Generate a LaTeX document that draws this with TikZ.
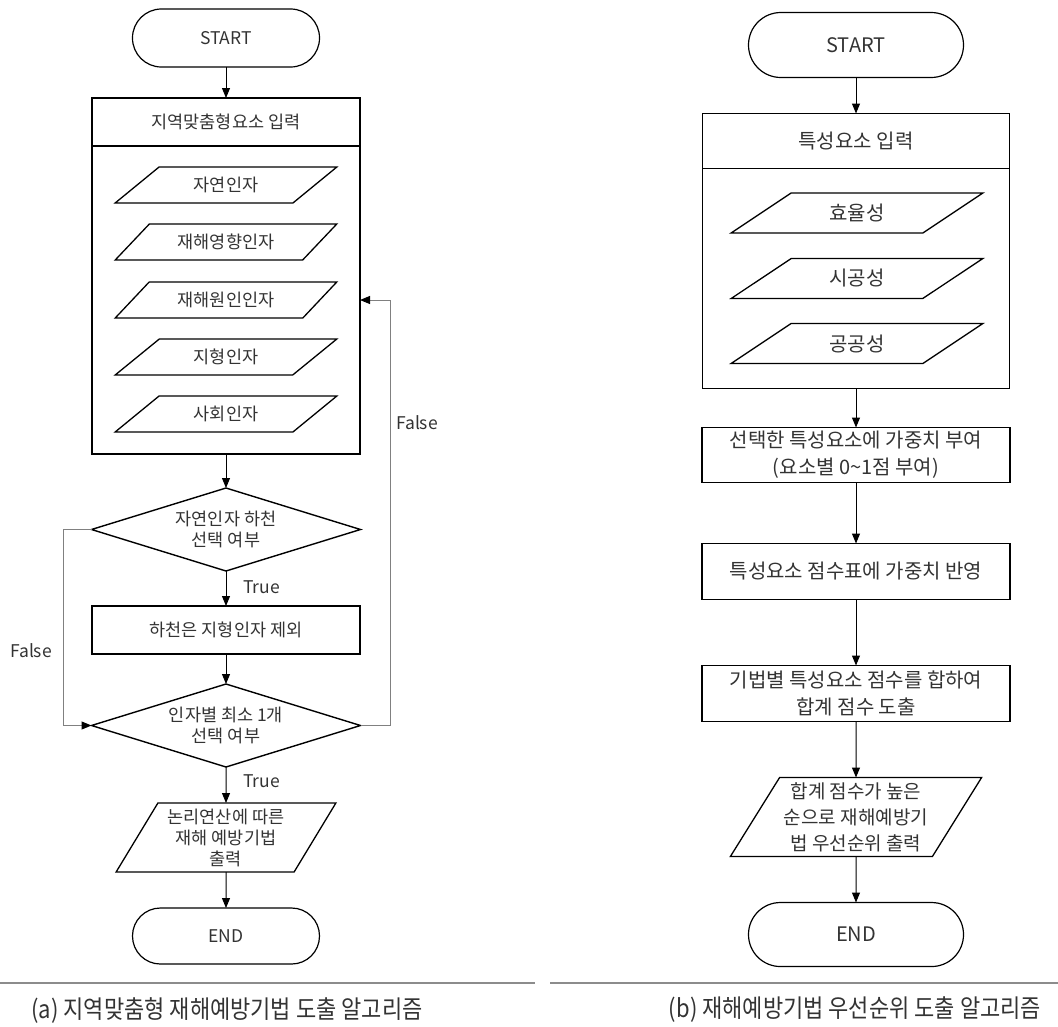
\documentclass[tikz,border=0pt]{standalone}
\usepackage{fontspec}
\setmainfont{Noto Sans CJK KR}
\usepackage{graphicx}
\usepackage{tikz}
\usetikzlibrary{arrows.meta}
\usetikzlibrary{positioning}
\usetikzlibrary{shapes}
\definecolor{ink}{RGB}{51,51,51}
\definecolor{loopgray}{RGB}{128,128,128}
\definecolor{rulegray}{RGB}{140,140,140}

\begin{document}
\begin{tikzpicture}[
      x=1pt, y=-1pt,
      every node/.style={text=ink, outer sep=0pt},
      lfont/.style={font=\fontsize{17.5}{21}\selectfont},
      rfont/.style={font=\fontsize{20}{27}\selectfont},
      terminal/.style={rectangle, draw, line width=1.2pt},
      process/.style={rectangle, draw, line width=1.5pt, align=center},
      iodata/.style={trapezium, trapezium stretches=true, draw,
                     line width=1.3pt, align=center, inner sep=1pt},
      decision/.style={diamond, aspect=3.24, draw, line width=1.4pt, align=center,
                       inner sep=0pt, minimum width=269pt, minimum height=83pt},
      flow/.style={-{Triangle[length=10pt,width=8pt]}, line width=1pt},
      loop/.style={loopgray, line width=1pt,
                   -{Triangle[length=10pt,width=8pt,color=black]}},
      caption/.style={font=\fontsize{25}{30}\selectfont}
    ]
      \useasboundingbox (0,0) rectangle (1058,1026);

      % (a) left chart
      \node [terminal, lfont, rounded corners=28.9pt,
             minimum width=187pt, minimum height=58pt] (startA) at (226,38) {START};
      \node [process, lfont, minimum width=268pt, minimum height=48pt,
             below=31pt of startA] (inputA) {지역맞춤형요소 입력};
      \node [process, minimum width=268pt, minimum height=308pt,
             below=0pt of inputA] (groupA) {};
      \node [iodata, lfont, trapezium left angle=39.3, trapezium right angle=140.7,
             minimum width=222pt, minimum height=36pt] (natA) at (226,185) {자연인자};
      \node [iodata, lfont, trapezium left angle=39.3, trapezium right angle=140.7,
             minimum width=222pt, minimum height=36pt] (impactA) at (226,242) {재해영향인자};
      \node [iodata, lfont, trapezium left angle=39.3, trapezium right angle=140.7,
             minimum width=222pt, minimum height=36pt] (causeA) at (226,300) {재해원인인자};
      \node [iodata, lfont, trapezium left angle=39.3, trapezium right angle=140.7,
             minimum width=222pt, minimum height=36pt] (terrainA) at (226,357) {지형인자};
      \node [iodata, lfont, trapezium left angle=39.3, trapezium right angle=140.7,
             minimum width=222pt, minimum height=36pt] (socialA) at (226,414) {사회인자};
      \node [decision, lfont, below=34pt of groupA] (riverA) {자연인자 하천\\선택 여부};
      \node [process, lfont, minimum width=268pt, minimum height=48pt,
             below=35pt of riverA] (dropA) {하천은 지형인자 제외};
      \node [decision, lfont, below=30pt of dropA] (leastA) {인자별 최소 1개\\선택 여부};
      \node [iodata, lfont, trapezium left angle=58.7, trapezium right angle=121.3,
             minimum width=220pt, minimum height=69pt,
             below=36pt of leastA] (outA) {논리연산에 따른\\재해 예방기법\\출력};
      \node [terminal, lfont, rounded corners=27.9pt,
             minimum width=187pt, minimum height=56pt, below=36pt of outA] (endA) {END};

      \node [lfont, anchor=west] (trueA1) at (240,587) {True};
      \node [lfont, anchor=west] (trueA2) at (240,781) {True};
      \node [lfont] (falseA1) at (31,651) {False};
      \node [lfont] (falseA2) at (417,423) {False};

      \path [flow] (startA) edge (inputA)
            (groupA) edge (riverA)
            (riverA) edge (dropA)
            (dropA) edge (leastA)
            (leastA) edge (outA)
            (outA) edge (endA);
      \draw [loop] (riverA.west) -- ++(-28,0) |- (leastA.west);
      \draw [loop] (leastA.east) -- ++(30,0) |- (groupA.east);

      % (b) right chart
      \node [terminal, rfont, rounded corners=32.4pt,
             minimum width=215pt, minimum height=65pt] (startB) at (856,45) {START};
      \node [process, rfont, minimum width=307pt, minimum height=55pt,
             below=36pt of startB] (inputB) {특성요소 입력};
      \node [process, minimum width=307pt, minimum height=220pt,
             below=0pt of inputB] (groupB) {};
      \node [iodata, rfont, trapezium left angle=37.6, trapezium right angle=142.4,
             minimum width=252pt, minimum height=40pt] (effB) at (857,213) {효율성};
      \node [iodata, rfont, trapezium left angle=37.6, trapezium right angle=142.4,
             minimum width=252pt, minimum height=40pt] (buildB) at (857,278.5) {시공성};
      \node [iodata, rfont, trapezium left angle=37.6, trapezium right angle=142.4,
             minimum width=252pt, minimum height=40pt] (publicB) at (857,343.5) {공공성};
      \node [process, rfont, minimum width=308pt, minimum height=55pt,
             below=39pt of groupB] (weightB) {선택한 특성요소에 가중치 부여\\(요소별 0\textasciitilde 1점 부여)};
      \node [process, rfont, minimum width=308pt, minimum height=56pt,
             below=61pt of weightB] (scoreB) {특성요소 점수표에 가중치 반영};
      \node [process, rfont, minimum width=308pt, minimum height=56pt,
             below=66pt of scoreB] (sumB) {기법별 특성요소 점수를 합하여\\합계 점수 도출};
      \node [iodata, font=\fontsize{19}{26}\selectfont,
             trapezium left angle=56.6, trapezium right angle=123.4,
             minimum width=252pt, minimum height=79pt,
             below=56pt of sumB] (outB) {합계 점수가 높은\\순으로 재해예방기\\법 우선순위 출력};
      \node [terminal, rfont, rounded corners=31.9pt,
             minimum width=215pt, minimum height=64pt, below=46pt of outB] (endB) {END};

      \path [flow] (startB) edge (inputB)
            (groupB) edge (weightB)
            (weightB) edge (scoreB)
            (scoreB) edge (sumB)
            (sumB) edge (outB)
            (outB) edge (endB);

      % captions
      \draw [rulegray, line width=1.2pt] (0,983) -- (535,983);
      \draw [rulegray, line width=1.2pt] (550,983) -- (1058,983);
      \node [caption] (capA) at (227,1010)
            {\scalebox{0.88}[1]{(a) 지역맞춤형 재해예방기법 도출 알고리즘}};
      \node [caption] (capB) at (855,1010)
            {\scalebox{0.88}[1]{(b) 재해예방기법 우선순위 도출 알고리즘}};
    \end{tikzpicture}
\end{document}
